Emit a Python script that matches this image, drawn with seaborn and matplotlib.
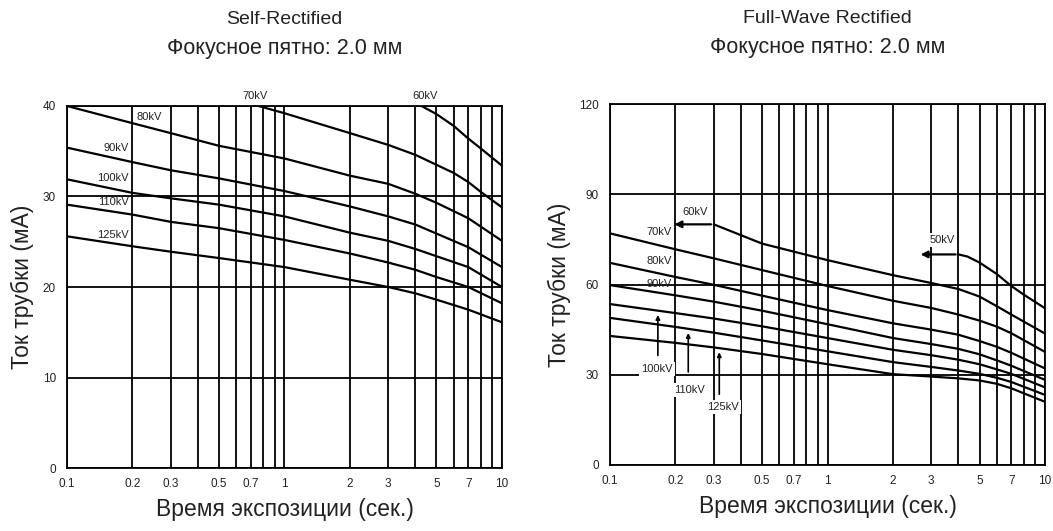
import numpy as np
import pandas as pd
import matplotlib
matplotlib.use("Agg")
import matplotlib.pyplot as plt
import seaborn as sns
from matplotlib.ticker import FixedLocator, FixedFormatter, NullFormatter

# ---------------- data: Self-Rectified ----------------
sr_t_main = [0.1, 0.2, 0.3, 0.5, 1, 2, 3, 4, 5, 7, 10]
sr_80 = [40.0, 38.1, 37.0, 35.6, 34.2, 32.3, 31.4, 30.3, 29.3, 27.6, 25.1]
sr_90 = [35.4, 33.8, 32.9, 32.0, 30.6, 28.9, 27.8, 26.9, 25.9, 24.4, 22.2]
sr_100 = [31.9, 30.4, 29.8, 29.1, 27.8, 26.0, 25.1, 24.2, 23.4, 22.2, 20.0]
sr_110 = [29.1, 28.0, 27.2, 26.5, 25.2, 23.7, 22.7, 21.9, 21.1, 20.0, 18.2]
sr_125 = [25.6, 24.5, 23.9, 23.2, 22.2, 20.8, 20.0, 19.3, 18.6, 17.5, 16.1]
sr_t_70 = [0.76, 1, 2, 3, 4, 5, 6, 7, 8, 10]
sr_70 = [40.0, 39.2, 37.0, 35.7, 34.6, 33.5, 32.6, 31.6, 30.5, 28.8]
sr_t_60 = [4.27, 5, 6, 7, 8, 10]
sr_60 = [40.0, 39.1, 37.8, 36.4, 35.3, 33.4]

# ---------------- data: Full-Wave Rectified ----------------
fw_t_main = [0.1, 0.2, 0.3, 0.5, 1, 2, 3, 4, 5, 6, 7, 10]
fw_70 = [77.0, 71.7, 68.7, 64.8, 59.5, 54.6, 52.2, 50.0, 48.0, 46.0, 43.8, 37.6]
fw_80 = [67.2, 62.5, 59.9, 56.3, 51.5, 47.1, 45.0, 43.3, 41.2, 39.3, 37.3, 32.1]
fw_90 = [59.8, 56.4, 54.3, 51.3, 46.8, 42.2, 40.2, 38.6, 36.8, 34.8, 33.0, 28.3]
fw_100 = [53.5, 50.5, 48.7, 46.1, 42.2, 38.3, 36.5, 35.0, 33.5, 31.8, 30.3, 25.8]
fw_110 = [48.9, 45.9, 44.0, 41.4, 37.8, 34.2, 32.6, 31.4, 30.3, 29.0, 27.6, 23.3]
fw_125 = [42.9, 40.6, 39.1, 36.9, 33.5, 30.2, 29.4, 28.8, 28.1, 27.0, 25.5, 21.0]
fw_t_60 = [0.3, 0.5, 1, 2, 3, 4, 5, 6, 7, 10]
fw_60 = [80.0, 73.6, 68.1, 63.1, 60.5, 58.5, 56.0, 52.8, 50.0, 43.7]
fw_t_50 = [4, 4.4, 5, 6, 7, 8, 10]
fw_50 = [70.0, 69.3, 67.3, 63.5, 59.5, 56.6, 52.1]

x_major = [0.1, 0.2, 0.3, 0.5, 0.7, 1, 2, 3, 5, 7, 10]
x_major_labels = ["0.1", "0.2", "0.3", "0.5", "0.7", "1", "2", "3", "5", "7", "10"]
x_minor = [0.4, 0.6, 0.8, 0.9, 4, 6, 8, 9]
sr_yticks = [0, 10, 20, 30, 40]
fw_yticks = [0, 30, 60, 90, 120]

titles = [("Self-Rectified", "Фокусное пятно: 2.0 мм"),
          ("Full-Wave Rectified", "Фокусное пятно: 2.0 мм")]
xlabel = "Время экспозиции (сек.)"
ylabel = "Ток трубки (мА)"


def long_df(series):
    rows = []
    for name, ts, vs in series:
        for t, v in zip(ts, vs):
            rows.append({"series": name, "t": t, "mA": v})
    return pd.DataFrame(rows)


sr_df = long_df([
    ("60kV", sr_t_60, sr_60), ("70kV", sr_t_70, sr_70),
    ("80kV", sr_t_main, sr_80), ("90kV", sr_t_main, sr_90),
    ("100kV", sr_t_main, sr_100), ("110kV", sr_t_main, sr_110),
    ("125kV", sr_t_main, sr_125)])
fw_df = long_df([
    ("50kV", fw_t_50, fw_50), ("60kV", fw_t_60, fw_60),
    ("70kV", fw_t_main, fw_70), ("80kV", fw_t_main, fw_80),
    ("90kV", fw_t_main, fw_90), ("100kV", fw_t_main, fw_100),
    ("110kV", fw_t_main, fw_110), ("125kV", fw_t_main, fw_125)])

sns.set_style("white")
plt.rcParams["font.family"] = ["Liberation Sans", "DejaVu Sans"]

fig = plt.figure(figsize=(10.53, 5.31), dpi=100)
ax1 = fig.add_axes([0.0636, 0.1186, 0.4131, 0.6818])
ax2 = fig.add_axes([0.5793, 0.1243, 0.4131, 0.6798])

GRID_LW = 1.3
LINE_LW = 1.6
TXT = "#222222"


def style_axes(ax, yticks, ymax):
    ax.set_xscale("log")
    ax.set_xlim(0.1, 10)
    ax.set_ylim(0, ymax)
    ax.xaxis.set_major_locator(FixedLocator(x_major))
    ax.xaxis.set_major_formatter(FixedFormatter(x_major_labels))
    ax.xaxis.set_minor_locator(FixedLocator(x_minor))
    ax.xaxis.set_minor_formatter(NullFormatter())
    ax.yaxis.set_major_locator(FixedLocator(yticks))
    ax.set_yticklabels([str(v) for v in yticks])
    ax.grid(True, which="both", axis="x", color="black", lw=GRID_LW)
    ax.grid(True, which="major", axis="y", color="black", lw=GRID_LW)
    ax.set_axisbelow(True)
    ax.tick_params(axis="both", which="both", length=0, labelsize=8.5,
                   labelcolor=TXT)
    ax.tick_params(axis="x", pad=7)
    ax.tick_params(axis="y", pad=8)
    for s in ax.spines.values():
        s.set_color("black")
        s.set_linewidth(GRID_LW)
    ax.set_xlabel(xlabel, fontsize=16.5, color=TXT, labelpad=6)
    ax.set_ylabel(ylabel, fontsize=16.5, color=TXT, labelpad=6)


for ax, df, yt, ym in [(ax1, sr_df, sr_yticks, 40), (ax2, fw_df, fw_yticks, 120)]:
    n = df["series"].nunique()
    sns.lineplot(data=df, x="t", y="mA", hue="series", units="series",
                 estimator=None, sort=False, palette=["black"] * n,
                 legend=False, lw=LINE_LW, ax=ax, zorder=3)
    style_axes(ax, yt, ym)

# titles
for ax, (l1, l2) in zip([ax1, ax2], titles):
    ax.text(0.5, 1.0 + 86 / 362, l1, transform=ax.transAxes, ha="center",
            va="center", fontsize=14, color=TXT)
    ax.text(0.5, 1.0 + 57 / 362, l2, transform=ax.transAxes, ha="center",
            va="center", fontsize=15.5, color=TXT)

LBL = dict(fontsize=8, color=TXT, zorder=6)
# left labels
ax1.text(0.73, 41.1, "70kV", ha="center", va="center", clip_on=False, **LBL)
ax1.text(4.43, 41.1, "60kV", ha="center", va="center", clip_on=False, **LBL)
ax1.text(0.208, 38.8, "80kV", ha="left", va="center", **LBL)
for lab, y in [("90kV", 35.4), ("100kV", 32.0), ("110kV", 29.4), ("125kV", 25.7)]:
    ax1.text(0.192, y, lab, ha="right", va="center", **LBL)

# right labels
WB = dict(facecolor="white", edgecolor="none", pad=1.5)
ax2.text(0.247, 84.0, "60kV", ha="center", va="center", **LBL)
ax2.annotate("", xy=(0.192, 80.0), xytext=(0.3, 80.0),
             arrowprops=dict(arrowstyle="-|>", color="black", lw=1.6,
                             mutation_scale=10), zorder=4)
ax2.text(0.192, 77.4, "70kV", ha="right", va="center", **LBL)
ax2.text(0.192, 67.8, "80kV", ha="right", va="center", **LBL)
ax2.text(0.192, 60.1, "90kV", ha="right", va="center", **LBL)
ax2.text(3.38, 74.8, "50kV", ha="center", va="center", bbox=WB, **LBL)
ax2.annotate("", xy=(2.6, 70.0), xytext=(4.0, 70.0),
             arrowprops=dict(arrowstyle="-|>", color="black", lw=1.6,
                             mutation_scale=10), zorder=4)
for lab, xl, yl, xa, y0, y1 in [("100kV", 0.165, 31.9, 0.166, 35.5, 50.8),
                                ("110kV", 0.231, 24.9, 0.229, 30.0, 44.8),
                                ("125kV", 0.332, 19.3, 0.318, 22.6, 38.4)]:
    ax2.annotate("", xy=(xa, y1), xytext=(xa, y0),
                 arrowprops=dict(arrowstyle="-|>", color="black", lw=1.2,
                                 mutation_scale=6), zorder=4)
    ax2.text(xl, yl, lab, ha="center", va="center", bbox=WB, **LBL)

fig.savefig("out.png", dpi=100, facecolor="white")
